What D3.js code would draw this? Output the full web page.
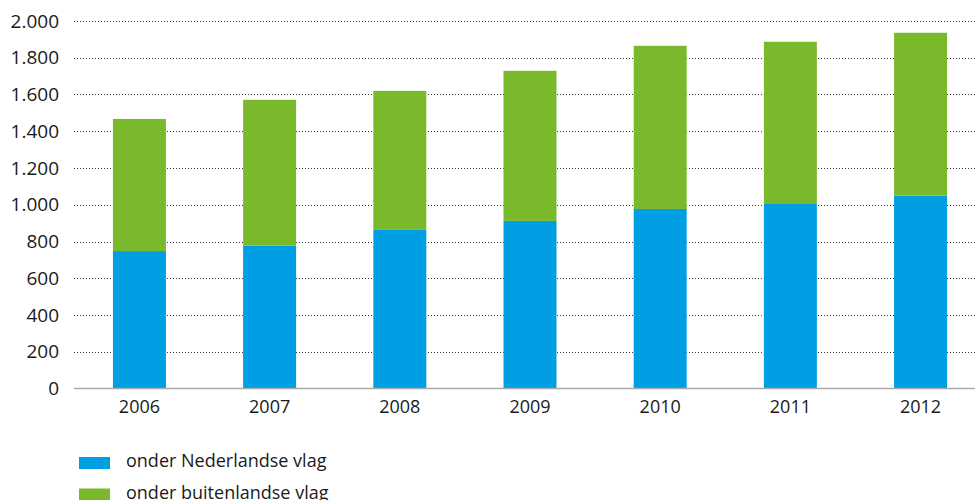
<!DOCTYPE html>
<html>
<head>
<meta charset="utf-8">
<script src="https://cdn.jsdelivr.net/npm/d3@7"></script>
<style>
  html, body { margin: 0; padding: 0; background: #fff; }
  svg { display: block; }
  text { font-family: "Open Sans", "Noto Sans", sans-serif; fill: #1a1a1a; }
</style>
</head>
<body>
<svg id="chart" width="975" height="500"></svg>
<script>
const years = ["2006", "2007", "2008", "2009", "2010", "2011", "2012"];
const nederlandse = [748, 777, 863, 912, 977, 1004, 1050];
const buitenlandse = [719, 794, 757, 817, 888, 883, 886];
const yTicks = [0, 200, 400, 600, 800, 1000, 1200, 1400, 1600, 1800, 2000];
const seriesNames = ["onder Nederlandse vlag", "onder buitenlandse vlag"];
const colors = ["#009fe3", "#7ab92c"];

const svg = d3.select("#chart");
const W = 975;
const mLeft = 74, mTop = 21, mBottom = 388.5;

const y = d3.scaleLinear().domain([0, 2000]).range([mBottom, mTop]);
const x = d3.scaleBand().domain(years).range([74.4, 985.6])
  .paddingInner(0.593).paddingOuter(0.296);

const fmt = v => d3.format(",")(v).replace(/,/g, ".");

// gridlines
svg.append("g").selectAll("line")
  .data(yTicks.filter(d => d > 0))
  .join("line")
  .attr("x1", mLeft).attr("x2", W)
  .attr("y1", d => Math.round(y(d)) + 0.5).attr("y2", d => Math.round(y(d)) + 0.5)
  .attr("stroke", "#333").attr("stroke-width", 1)
  .attr("stroke-dasharray", "1,2");

// y axis labels
const yAxis = d3.axisLeft(y).tickValues(yTicks).tickFormat(fmt).tickSize(0).tickPadding(0);
const gy = svg.append("g").attr("transform", `translate(59,0)`).call(yAxis);
gy.select(".domain").remove();
gy.selectAll("text").attr("font-size", 19).attr("font-family", "'Open Sans', sans-serif").attr("fill", "#1a1a1a");

// stacked bars
const stackData = years.map((yr, i) => ({ year: yr, a: nederlandse[i], b: buitenlandse[i] }));
const stack = d3.stack().keys(["a", "b"])(stackData);
svg.append("g").selectAll("g").data(stack).join("g")
  .attr("fill", (d, i) => colors[i])
  .selectAll("rect").data(d => d).join("rect")
  .attr("x", d => x(d.data.year))
  .attr("width", x.bandwidth())
  .attr("y", d => y(d[1]))
  .attr("height", d => y(d[0]) - y(d[1]));

// baseline
svg.append("line").attr("x1", mLeft).attr("x2", W)
  .attr("y1", mBottom).attr("y2", mBottom)
  .attr("stroke", "#aaa").attr("stroke-width", 1.5);

// x axis labels
const xAxis = d3.axisBottom(x).tickSize(0).tickPadding(0);
const gx = svg.append("g").attr("transform", `translate(0,${mBottom})`).call(xAxis);
gx.select(".domain").remove();
gx.selectAll("text").attr("font-size", 18).attr("dy", "1.35em")
  .attr("font-family", "'Open Sans', sans-serif").attr("fill", "#1a1a1a");

// legend
const lg = svg.append("g").selectAll("g").data(seriesNames).join("g")
  .attr("transform", (d, i) => `translate(79,${457 + i * 31.5})`);
lg.append("rect").attr("width", 31).attr("height", 12).attr("fill", (d, i) => colors[i]);
lg.append("text").attr("x", 47).attr("y", 10).attr("font-size", 18).text(d => d);
</script>
</body>
</html>
